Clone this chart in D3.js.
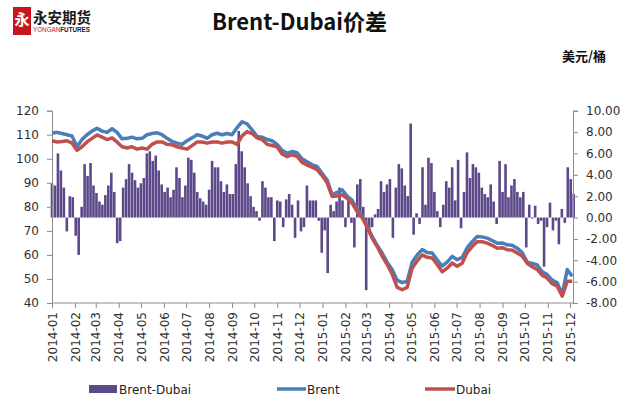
<!DOCTYPE html>
<html>
<head>
<meta charset="utf-8">
<script src="https://cdn.jsdelivr.net/npm/d3@7"></script>
<style>
body { margin: 0; background: #ffffff; }
svg { display: block; font-family: "DejaVu Sans", sans-serif; }
.axis path, .axis line { stroke: #8c8c8c; }
.axis text { fill: #303030; font-size: 12px; font-family: "DejaVu Sans", sans-serif; }
</style>
</head>
<body>
<svg id="chart" width="627" height="403"></svg>
<script>
// Weekly-ish closes (every 6.75 days from 2014-01-01), USD/bbl
var brent = [
    110.6, 111.0, 110.5, 110.0, 109.5, 105.0, 108.0, 110.0, 111.5, 112.7,
    111.5, 111.0, 112.5, 111.0, 108.3, 108.5, 109.0, 108.3, 108.5, 110.0,
    110.5, 110.8, 110.0, 108.5, 107.2, 106.5, 106.0, 107.5, 108.7, 110.0,
    109.5, 108.5, 110.0, 110.6, 110.0, 110.5, 110.0, 113.0, 115.4, 114.5,
    112.0, 109.3, 109.0, 108.0, 107.5, 106.0, 103.5, 102.3, 103.0, 102.5,
    100.0, 98.8, 97.5, 96.8, 94.0, 91.2, 85.0, 86.0, 87.1, 84.5,
    82.7, 79.0, 76.0, 72.0, 67.7, 64.0, 60.8, 57.0, 53.9, 49.5,
    48.5, 49.0, 57.0, 60.0, 62.2, 61.0, 60.8, 58.0, 55.3, 57.0,
    59.4, 58.0, 59.0, 63.0, 65.5, 67.7, 67.5, 67.0, 66.0, 64.9,
    65.0, 64.2, 64.0, 62.8, 61.0, 57.0, 56.5, 55.8, 53.0, 51.8,
    49.5, 48.4, 43.5, 53.9, 51.1
];
var dubai = [
    107.5, 107.0, 107.2, 107.5, 106.5, 103.5, 105.0, 107.0, 108.5, 109.9,
    109.0, 108.0, 108.7, 107.0, 105.0, 104.5, 105.0, 104.0, 104.5, 104.0,
    106.0, 107.0, 107.0, 106.0, 105.8, 105.0, 104.5, 104.0, 105.5, 107.0,
    107.0, 106.5, 107.0, 107.0, 106.5, 107.0, 107.0, 106.0, 109.5, 111.3,
    110.5, 108.7, 108.0, 106.0, 105.5, 105.0, 102.0, 100.9, 101.6, 101.0,
    98.5, 97.4, 96.5, 95.5, 93.0, 90.0, 84.3, 84.5, 85.0, 83.5,
    81.5, 78.0, 75.5, 71.5, 67.0, 63.5, 59.5, 56.0, 52.0, 46.5,
    45.5, 46.5, 54.5, 57.5, 60.0, 59.0, 58.7, 56.0, 53.0, 54.5,
    56.6, 55.3, 56.5, 61.0, 63.5, 65.5, 65.5, 64.9, 64.0, 62.8,
    63.0, 62.2, 62.0, 60.8, 59.5, 56.5, 55.0, 54.0, 51.5, 50.4,
    48.0, 47.0, 42.8, 49.0, 49.0
];
// Brent-Dubai spread, every 4 days from 2014-01-01
var spread = [
    3.2, 3.0, 6.0, 4.4, 2.8, -1.3, 2.0, 1.9, -1.7, -3.5,
    1.0, 5.0, 3.9, 5.1, 3.0, 2.3, 1.5, 1.2, 2.1, 3.0,
    4.2, 2.4, -2.4, -2.2, 2.8, 3.6, 5.0, 4.2, 3.5, 2.8,
    3.2, 3.7, 6.0, 6.2, 5.3, 5.8, 4.4, 3.1, 2.4, 2.8,
    1.9, 2.6, 4.7, 3.7, 1.9, 3.0, 5.6, 5.4, 4.2, 2.4,
    1.8, 1.5, 1.2, 2.6, 5.3, 4.7, 4.7, 3.4, 2.4, 3.1,
    2.2, 2.2, 5.0, 8.1, 6.2, 4.7, 3.2, 2.0, 1.0, 0.6,
    -0.3, 3.4, 2.8, 1.9, 1.9, -2.2, 1.6, 1.5, -0.9, 1.7,
    2.2, 1.2, -1.9, 1.6, -1.3, -0.9, 3.0, 1.6, 1.6, 1.6,
    -0.3, -3.3, -1.2, -5.2, 1.2, 0.6, 1.5, 2.8, 1.6, -0.9,
    1.6, -0.5, -2.8, 3.1, 3.6, 1.0, -6.8, -1.2, -0.9, 0.3,
    0.8, 3.4, 2.4, 3.1, 3.6, -1.9, 2.8, 5.0, 4.6, 3.0,
    2.0, 8.8, -1.6, 0.4, -0.6, 4.7, 1.2, 5.6, 5.1, 2.4,
    0.6, -0.9, 1.2, 3.4, 2.8, 4.7, 1.6, 5.4, -1.0, 2.4,
    6.1, 3.7, 5.0, 4.7, 4.2, 2.8, 2.2, 1.9, 3.1, 1.5,
    -0.6, 5.3, 2.4, 5.0, 1.9, 3.0, 3.6, 2.4, 1.9, 2.4,
    -2.8, 1.2, -0.1, 1.1, -0.6, -0.3, -4.6, -0.9, 1.4, -1.2,
    -0.3, -2.5, 0.8, -0.5, 4.7, 3.6, 2.2
];
var leftTicks = [40, 50, 60, 70, 80, 90, 100, 110, 120];
var rightTicks = [-8, -6, -4, -2, 0, 2, 4, 6, 8, 10];
var seriesNames = ["Brent-Dubai", "Brent", "Dubai"];

var DAY = 24 * 3600 * 1000;
var start = new Date(2014, 0, 1);
var lineDates = brent.map(function (d, i) { return new Date(+start + i * 6.75 * DAY); });
var barDates = spread.map(function (d, i) { return new Date(+start + i * 4 * DAY); });

var colors = { bar: "#5d4889", brent: "#4a7ebb", dubai: "#c0504d" };

var svg = d3.select("#chart");
var plot = { left: 52, right: 573, top: 110.7, bottom: 303 };

var x = d3.scaleTime()
    .domain([new Date(2014, 0, 1), new Date(2015, 11, 1)])
    .range([plot.left, 570]);
var yLeft = d3.scaleLinear().domain([40, 120]).range([plot.bottom, plot.top]);
var yRight = d3.scaleLinear().domain([-8, 10]).range([plot.bottom, plot.top]);

// Logo
var logo = svg.append("g").attr("class", "logo");
logo.append("rect")
    .attr("x", 13).attr("y", 7)
    .attr("width", 18).attr("height", 28)
    .style("fill", "#c8161e");
logo.append("text")
    .attr("x", 22).attr("y", 25)
    .attr("text-anchor", "middle")
    .style("fill", "#ffffff")
    .style("font-family", "Noto Sans CJK SC")
    .style("font-weight", "bold")
    .style("font-size", "15px")
    .text("永");
logo.append("text")
    .attr("x", 33).attr("y", 23)
    .style("fill", "#1a1a1a")
    .style("font-family", "Noto Sans CJK SC")
    .style("font-weight", "bold")
    .style("font-size", "14.5px")
    .text("永安期货");
var sub = logo.append("text")
    .attr("x", 33).attr("y", 32)
    .attr("textLength", 57)
    .attr("lengthAdjust", "spacingAndGlyphs")
    .style("font-family", "Liberation Sans Narrow, Liberation Sans")
    .style("font-size", "6.5px");
sub.append("tspan").style("fill", "#c8161e").text("YONGAN");
sub.append("tspan").style("fill", "#1a1a1a").style("font-weight", "bold").text("FUTURES");

// Titles
svg.append("text")
    .attr("x", 212).attr("y", 30)
    .style("font-family", "Noto Sans CJK SC")
    .style("font-weight", "bold")
    .style("font-size", "22px")
    .style("fill", "#111")
    .text("Brent-Dubai价差");
svg.append("text")
    .attr("x", 562).attr("y", 61)
    .style("font-family", "Noto Sans CJK SC")
    .style("font-weight", "bold")
    .style("font-size", "13px")
    .style("fill", "#111")
    .text("美元/桶");

// Spread bars (right axis)
svg.append("g").attr("class", "bars")
    .selectAll("rect")
    .data(spread)
    .join("rect")
    .attr("x", function (d, i) { return x(barDates[i]) - 1.3; })
    .attr("width", 2.6)
    .attr("y", function (d) { return Math.min(yRight(d), yRight(0)); })
    .attr("height", function (d) { return Math.abs(yRight(d) - yRight(0)); })
    .style("fill", colors.bar);

// Axes
svg.append("g")
    .attr("class", "axis")
    .attr("transform", "translate(" + plot.left + ",0)")
    .call(d3.axisLeft(yLeft).tickValues(leftTicks).tickSize(5).tickPadding(8));
svg.append("g")
    .attr("class", "axis")
    .attr("transform", "translate(" + plot.right + ",0)")
    .call(d3.axisRight(yRight).tickValues(rightTicks).tickSize(5).tickPadding(8)
        .tickFormat(function (d) { return d.toFixed(2); }));
var xAxis = svg.append("g")
    .attr("class", "axis")
    .attr("transform", "translate(0," + plot.bottom + ")")
    .call(d3.axisBottom(x)
        .tickValues(d3.timeMonth.range(new Date(2014, 0, 1), new Date(2015, 11, 2)))
        .tickSize(5)
        .tickFormat(d3.timeFormat("%Y-%m")));
xAxis.select(".domain").attr("d", "M" + plot.left + ",0H" + plot.right);
xAxis.selectAll(".tick text")
    .attr("transform", "rotate(-90)")
    .attr("text-anchor", "end")
    .attr("x", -9)
    .attr("y", 0)
    .attr("dy", "0.35em");

// Price lines (left axis)
var line = d3.line()
    .x(function (d, i) { return x(lineDates[i]); })
    .y(function (d) { return yLeft(d); });
svg.append("path")
    .datum(brent)
    .attr("d", line)
    .style("fill", "none")
    .style("stroke", colors.brent)
    .style("stroke-width", 3.5)
    .style("stroke-linejoin", "round");
svg.append("path")
    .datum(dubai)
    .attr("d", line)
    .style("fill", "none")
    .style("stroke", colors.dubai)
    .style("stroke-width", 3.5)
    .style("stroke-linejoin", "round");

// Legend
var legend = svg.append("g").attr("class", "legend").style("font-size", "12px");
legend.append("rect")
    .attr("x", 89).attr("y", 385)
    .attr("width", 28).attr("height", 8)
    .style("fill", colors.bar);
legend.append("text").attr("x", 119).attr("y", 394).style("fill", "#222").text(seriesNames[0]);
legend.append("line")
    .attr("x1", 277).attr("x2", 306).attr("y1", 389).attr("y2", 389)
    .style("stroke", colors.brent).style("stroke-width", 3.5);
legend.append("text").attr("x", 307).attr("y", 394).style("fill", "#222").text(seriesNames[1]);
legend.append("line")
    .attr("x1", 425).attr("x2", 455).attr("y1", 389).attr("y2", 389)
    .style("stroke", colors.dubai).style("stroke-width", 3.5);
legend.append("text").attr("x", 456).attr("y", 394).style("fill", "#222").text(seriesNames[2]);
</script>
</body>
</html>
